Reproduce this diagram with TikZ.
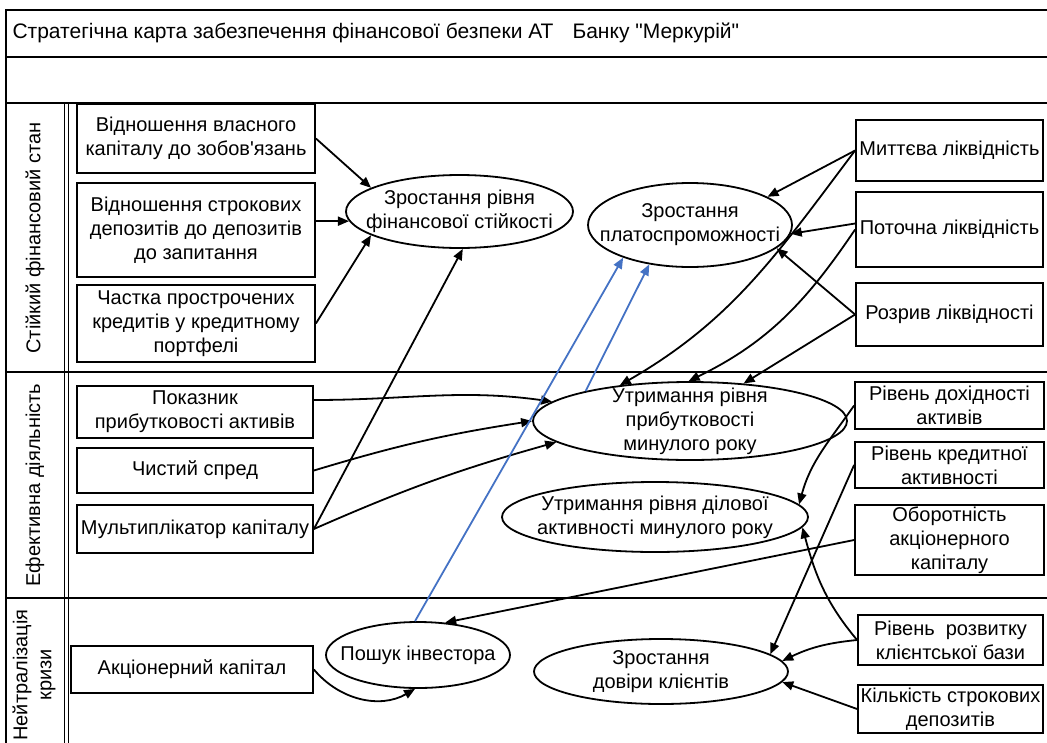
\documentclass[tikz,border=0pt]{standalone}
\usepackage{fontspec}
\setmainfont{Liberation Sans}[Ligatures=TeXOff]
\usetikzlibrary{shapes.geometric,arrows.meta}
\definecolor{blueline}{RGB}{68,114,196}

\begin{document}
\begin{tikzpicture}[x=1pt,y=1pt,
	every node/.style={font=\fontsize{20}{24}\selectfont},
	kpi/.style={draw,line width=1.8pt,align=center,inner sep=1pt},
	goal/.style={draw,ellipse,line width=1.8pt,inner sep=0pt},
	gtext/.style={align=center,inner sep=0pt},
	arr/.style={line width=1.8pt,-{Triangle[length=11pt,width=9pt]}},
	inv/.style={arr,draw=blueline,fill=blueline},
	lane/.style={rotate=90,align=center},
	frame/.style={line width=2.2pt}]
	\useasboundingbox (0,0) rectangle (1047,-742);
	% frame
	\draw[frame] (6,-750) -- (6,-10) -- (1050,-10);
	\foreach \y in {57,103,372,598}
		\draw[frame] (6,-\y) -- (1050,-\y);
	\draw[line width=1.6pt] (64.5,-103) -- (64.5,-750);
	\draw[line width=1.6pt] (68.5,-103) -- (68.5,-750);
	\node[anchor=west,font=\fontsize{21}{24}\selectfont] (title) at (9,-33) {Стратегічна карта забезпечення фінансової безпеки АТ};
	\node[anchor=west,font=\fontsize{21}{24}\selectfont] (bank) at (569,-33) {Банку "Меркурій"};
	% rows
	\node[lane] (lane1) at (35,-238) {Стійкий фінансовий стан};
	\node[lane] (lane2) at (35,-485) {Ефективна діяльність};
	\node[lane] (lane3) at (34,-675) {Нейтралізація\\кризи};
	% indicators, left
	\node[kpi,minimum width=238pt,minimum height=69pt] (vk) at (196,-138.5) {Відношення власного\\капіталу до зобов'язань};
	\node[kpi,minimum width=238pt,minimum height=94pt] (sd) at (196,-230) {Відношення строкових\\депозитів до депозитів\\до запитання};
	\node[kpi,minimum width=238pt,minimum height=77pt] (pk) at (196,-323.5) {Частка прострочених\\кредитів у кредитному\\портфелі};
	\node[kpi,minimum width=236pt,minimum height=52pt] (pa) at (195,-412) {Показник\\прибутковості активів};
	\node[kpi,minimum width=236pt,minimum height=45pt] (cs) at (195,-470.5) {Чистий спред};
	\node[kpi,minimum width=236pt,minimum height=48pt] (mk) at (195,-529) {Мультиплікатор капіталу};
	\node[kpi,minimum width=242pt,minimum height=47pt] (ak) at (192,-669.5) {Акціонерний капітал};
	% indicators, right
	\node[kpi,minimum width=187pt,minimum height=61pt] (ml) at (949.5,-150.5) {Миттєва ліквідність};
	\node[kpi,minimum width=187pt,minimum height=75pt] (pl) at (949.5,-229.5) {Поточна ліквідність};
	\node[kpi,minimum width=187pt,minimum height=63pt] (rl) at (949.5,-314.5) {Розрив ліквідності};
	\node[kpi,minimum width=189pt,minimum height=47pt] (rd) at (949.5,-405.5) {Рівень дохідності\\активів};
	\node[kpi,minimum width=189pt,minimum height=46pt] (rk) at (949.5,-465) {Рівень кредитної\\активності};
	\node[kpi,minimum width=189pt,minimum height=70pt] (oa) at (949.5,-540) {Оборотність\\акціонерного\\капіталу};
	\node[kpi,minimum width=185pt,minimum height=50pt] (rb) at (950.5,-640) {Рівень~ розвитку\\клієнтської бази};
	\node[kpi,minimum width=185pt,minimum height=48pt] (ks) at (950.5,-709) {Кількість строкових\\депозитів};
	% goals
	\node[goal,minimum width=227pt,minimum height=73pt] (fs) at (459.5,-211.5) {};
	\node[gtext] at (fs) {Зростання рівня\\фінансової стійкості};
	\node[goal,minimum width=204pt,minimum height=84pt] (pz) at (690,-225) {};
	\node[gtext] at (pz) {Зростання\\платоспроможності};
	\node[goal,minimum width=314pt,minimum height=78pt] (pr) at (690,-421) {};
	\node[gtext] at (pr) {Утримання рівня\\прибутковості\\минулого року};
	\node[goal,minimum width=306pt,minimum height=70pt] (da) at (655,-517) {};
	\node[gtext] at (da) {Утримання рівня ділової\\активності минулого року};
	\node[goal,minimum width=184pt,minimum height=66pt] (pi) at (418,-655) {};
	\node[gtext] at (pi) {Пошук інвестора};
	\node[goal,minimum width=254pt,minimum height=65pt] (dk) at (661,-671.5) {};
	\node[gtext] at (dk) {Зростання\\довіри клієнтів};
	% links
	\draw[arr] (vk.east) -- (fs.165);
	\draw[arr] (sd.east |- fs.185) -- (fs.185);
	\draw[arr] (pk.east) -- (fs.195);
	\draw[arr] (mk.east) -- (fs.275);
	\draw[arr] (mk.east) to[bend left=4] (pr.189);
	\draw[arr] (cs.east) to[bend left=4] (pr.west);
	\draw[arr] ([yshift=12pt]pa.east) to[out=0,in=172] (pr.172);
	\draw[arr] (ml.west) -- (pz.20);
	\draw[arr] ([yshift=6pt]pl.west) -- (pz.355);
	\draw[arr] (rl.west) -- (pz.345);
	\draw[arr] (ml.west) to[out=233,in=30] (pr.153);
	\draw[arr] (pl.west) to[out=236,in=26] (pr.92);
	\draw[arr] (rl.west) -- (pr.35);
	\draw[inv] (pi.95) -- (pz.206);
	\draw[inv] (pr.164) -- (pz.224);
	\draw[arr] (rd.west) to[out=235,in=75] (da.5);
	\draw[arr] (rk.west) -- (dk.9);
	\draw[arr] (rb.west) to[out=130,in=285] (da.356);
	\draw[arr] (rb.west) to[bend right=10] (dk.5);
	\draw[arr] (ks.west) -- (dk.355);
	\draw[arr] (oa.west) -- (pi.50);
	\draw[arr] (ak.east) to[out=-50,in=210] (pi.265);
\end{tikzpicture}
\end{document}
